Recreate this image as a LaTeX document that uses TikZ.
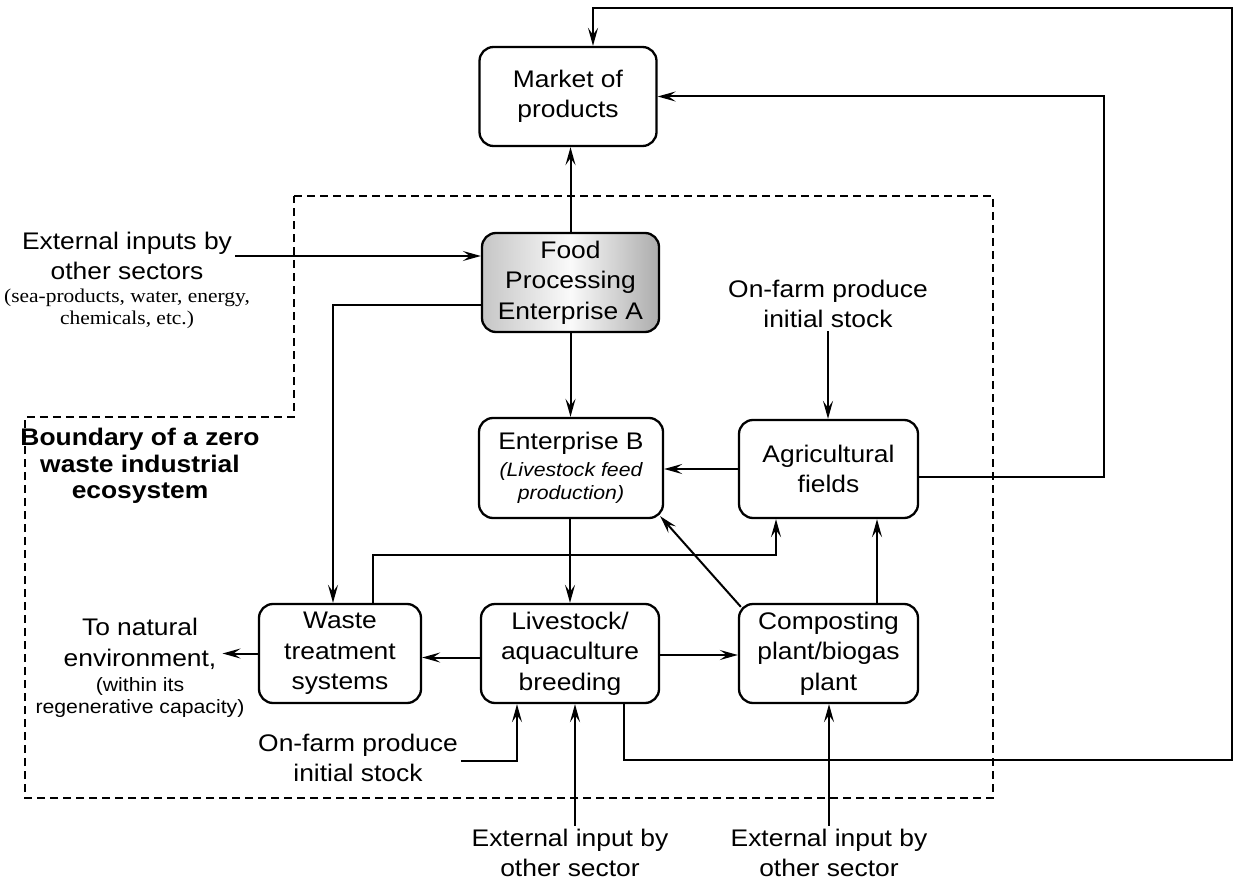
\documentclass[tikz,border=0pt]{standalone}
\usepackage{fontspec}
\setmainfont[FakeStretch=1.1]{Liberation Sans}
\newfontfamily\tmsfont[FakeStretch=1.1]{Liberation Serif}
\usetikzlibrary{arrows.meta,calc}
\newcommand\smit{\fontsize{19.3}{22}\selectfont\itshape}
\begin{document}
\begin{tikzpicture}[x=1pt,y=-1pt,
  box/.style={draw, line width=2.3pt, rounded corners=14pt, align=center, inner sep=0pt, font=\fontsize{24}{30.5}\selectfont},
  lbl/.style={align=center, inner sep=3pt, font=\fontsize{24}{30.5}\selectfont},
  sml/.style={align=center, inner sep=2pt, font=\tmsfont\fontsize{19.5}{22}\selectfont},
  smlsans/.style={align=center, inner sep=2pt, font=\fontsize{19.3}{22}\selectfont},
  bold/.style={align=center, inner sep=2pt, font=\bfseries\fontsize{24}{26.5}\selectfont},
  arr/.style={line width=2pt, -{Stealth[length=18pt,width=10pt,inset=7pt]}},
  bound/.style={line width=1.9pt, dash pattern=on 8pt off 5pt}]
\useasboundingbox (0,0) rectangle (1236,882);

% boundary
\draw[bound] (294,196) -- (993,196) -- (993,798) -- (25,798) -- (25,417) -- (294,417) -- cycle;

% boxes
\node[box, minimum width=177pt, minimum height=99pt] (market) at (568,96.5) {Market of\\products};
\node[box, minimum width=177pt, minimum height=99pt, left color=gray!45, right color=gray!65, middle color=gray!4] (food) at (570.5,282.5) {Food\\Processing\\Enterprise A};
\node[box, minimum width=184pt, minimum height=100pt] (entB) at (571,468) {Enterprise B\\[-4pt]{\smit (Livestock feed}\\[-7pt]{\smit production)}};
\node[box, minimum width=179pt, minimum height=98pt] (agri) at (828.5,469) {Agricultural\\fields};
\node[box, minimum width=162pt, minimum height=99pt] (waste) at (340,653.5) {Waste\\treatment\\systems};
\node[box, minimum width=178pt, minimum height=99pt] (live) at (570,653.5) {Livestock/\\aquaculture\\breeding};
\node[box, minimum width=179pt, minimum height=99pt] (comp) at (828.5,653.5) {Composting\\plant/biogas\\plant};

% labels
\node[lbl] (extin) at (127,256) {External inputs by\\other sectors};
\node[sml] (extsm) at (127,309) {(sea-products, water, energy,\\chemicals, etc.)};
\node[bold] (bnd) at (140,466) {Boundary of a zero\\waste industrial\\ecosystem};
\node[lbl] (onf1) at (828,304) {On-farm produce\\initial stock};
\node[lbl, inner sep=6pt] (tonat) at (140,644) {To natural\\environment,};
\node[smlsans] (regen) at (140,698) {(within its\\regenerative capacity)};
\node[lbl] (onf2) at (358,758) {On-farm produce\\initial stock};
\node[lbl] (extb1) at (570,853) {External input by\\other sector};
\node[lbl] (extb2) at (829,853) {External input by\\other sector};

% helper coordinates
\coordinate (xr) at (1104,0);
\coordinate (xfar) at (1232,760);
\coordinate (ytop) at (0,8);
\coordinate (mtop) at ([xshift=25pt]market.north);
\coordinate (lvout) at ([xshift=54pt]live.south);
\coordinate (c4) at (776,555);
\coordinate (c5) at (517,761);

% connectors
\draw[arr] (lvout) |- (xfar) |- (mtop |- ytop) -- (mtop);
\draw[arr] ([yshift=-8pt]agri.east) -| (market.east -| xr) -- (market.east);
\draw[arr] (food.north) -- (food.north |- market.south);
\draw[arr] (extin.east) -- (extin.east -| food.west);
\draw[arr] ([yshift=-23pt]food.west) -| ([xshift=-7pt]waste.north);
\draw[arr] (food.south) -- (food.south |- entB.north);
\draw[arr] (onf1.south) -- (onf1.south |- agri.north);
\draw[arr] (agri.west) -- (agri.west -| entB.east);
\draw[arr] ([shift={(3,4)}]comp.north west) -- ([shift={(-4,-3)}]entB.south east);
\draw[arr] ([xshift=33pt]waste.north) |- (c4) -- (c4 |- agri.south);
\draw[arr] (live.north |- entB.south) -- (live.north);
\draw[arr] ([xshift=48.5pt]comp.north) -- ([xshift=48.5pt]agri.south);
\draw[arr] ([yshift=-4pt]live.west) -- ([yshift=-4pt]live.west -| waste.east);
\draw[arr] ([yshift=-1.5pt]live.east) -- ([yshift=-1.5pt]live.east -| comp.west);
\draw[arr] (waste.west) -- (waste.west -| tonat.east);
\draw[arr] (onf2.east |- c5) -- (c5) -- (c5 |- live.south);
\draw[arr] ([xshift=5pt]extb1.north) -- ([xshift=5pt]extb1.north |- live.south);
\draw[arr] (extb2.north) -- (extb2.north |- comp.south);
\end{tikzpicture}
\end{document}
